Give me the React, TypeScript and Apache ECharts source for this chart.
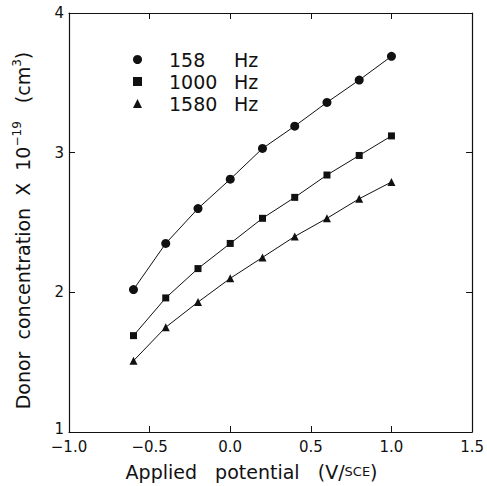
import React, { useEffect, useRef } from "react";
import * as echarts from "echarts";

const potentials = [-0.6, -0.4, -0.2, 0.0, 0.2, 0.4, 0.6, 0.8, 1.0];
const hz158 = [2.02, 2.35, 2.60, 2.81, 3.03, 3.19, 3.36, 3.52, 3.69];
const hz1000 = [1.69, 1.96, 2.17, 2.35, 2.53, 2.68, 2.84, 2.98, 3.12];
const hz1580 = [1.51, 1.75, 1.93, 2.10, 2.25, 2.40, 2.53, 2.67, 2.79];
const seriesNames = ["158", "1000", "1580"];
const xTicks = ["−1.0", "−0.5", "0.0", "0.5", "1.0", "1.5"];

const FONT = "DejaVu Sans, sans-serif";
const INK = "#111";

export default function App() {
  const ref = useRef<HTMLDivElement>(null);
  useEffect(() => {
    if (!ref.current) return;
    const chart = echarts.init(ref.current, undefined, { renderer: "svg" });
    const mk = (vals: number[]) => potentials.map((x, i) => [x, vals[i]]);
    const line = { color: INK, width: 1 };
    const axisBase = {
      axisLine: { show: true, onZero: false, lineStyle: { color: INK, width: 1.2 } },
      axisTick: { show: true, inside: true, length: 6, lineStyle: { color: INK } },
      splitLine: { show: false },
    };
    chart.setOption({
      animation: false,
      backgroundColor: "#fff",
      textStyle: { fontFamily: FONT, color: INK },
      grid: { left: 69, right: 10, top: 13, bottom: 54 },
      legend: {
        orient: "vertical",
        left: 128,
        top: 45,
        itemGap: 3,
        itemWidth: 9,
        itemHeight: 9,
        data: [
          { name: "158", icon: "circle" },
          { name: "1000", icon: "rect" },
          { name: "1580", icon: "triangle" },
        ],
        formatter: (n: string) => `{a|${n}}{b|Hz}`,
        textStyle: {
          rich: {
            a: { fontSize: 19, lineHeight: 18, width: 65, fontFamily: FONT, color: INK, padding: [0, 0, 0, 22] },
            b: { fontSize: 19, lineHeight: 18, fontFamily: FONT, color: INK },
          },
        },
      },
      xAxis: [
        {
          type: "value",
          min: -1.0,
          max: 1.5,
          interval: 0.5,
          ...axisBase,
          axisLabel: {
            fontSize: 15,
            color: INK,
            margin: 7,
            fontFamily: FONT,
            formatter: (v: number) => xTicks[Math.round((v + 1.0) / 0.5)] ?? "",
          },
          name: "Applied   potential   (V/{s|SCE})",
          nameLocation: "middle",
          nameGap: 30,
          nameTextStyle: {
            fontSize: 19,
            color: INK,
            fontFamily: FONT,
            padding: [0, 38, 0, 0],
            rich: { s: { fontSize: 13, fontFamily: FONT, color: INK } },
          },
        },
        {
          type: "value",
          position: "top",
          min: -1.0,
          max: 1.5,
          interval: 0.5,
          ...axisBase,
          axisLabel: { show: false },
        },
      ],
      yAxis: [
        {
          type: "value",
          min: 1,
          max: 4,
          interval: 1,
          ...axisBase,
          axisLabel: {
            fontSize: 15,
            color: INK,
            margin: 5,
            fontFamily: FONT,
            formatter: (v: number) => (v === 1 ? "{lo|1}" : String(v)),
            rich: { lo: { fontSize: 15, fontFamily: FONT, color: INK, padding: [0, 0, 6, 0] } },
          },
          name: "Donor  concentration  X  10{sup|−19}   (cm{sup|3})",
          nameLocation: "middle",
          nameRotate: 90,
          nameGap: 34,
          nameTextStyle: {
            fontSize: 19,
            color: INK,
            fontFamily: FONT,
            padding: [0, 16, 0, 0],
            rich: { sup: { fontSize: 12, verticalAlign: "top", padding: [0, 0, 12, 0], fontFamily: FONT, color: INK } },
          },
        },
        {
          type: "value",
          position: "right",
          min: 1,
          max: 4,
          interval: 1,
          ...axisBase,
          axisLabel: { show: false },
        },
      ],
      series: [
        {
          name: seriesNames[0],
          type: "line",
          data: mk(hz158),
          symbol: "circle",
          symbolSize: 9,
          itemStyle: { color: INK },
          lineStyle: line,
        },
        {
          name: seriesNames[1],
          type: "line",
          data: mk(hz1000),
          symbol: "rect",
          symbolSize: 7,
          itemStyle: { color: INK },
          lineStyle: line,
        },
        {
          name: seriesNames[2],
          type: "line",
          data: mk(hz1580),
          symbol: "triangle",
          symbolSize: 8,
          itemStyle: { color: INK },
          lineStyle: line,
        },
      ],
    });
    return () => chart.dispose();
  }, []);
  return <div ref={ref} style={{ width: 487, height: 486, position: "absolute", left: 0, top: 0 }} />;
}
